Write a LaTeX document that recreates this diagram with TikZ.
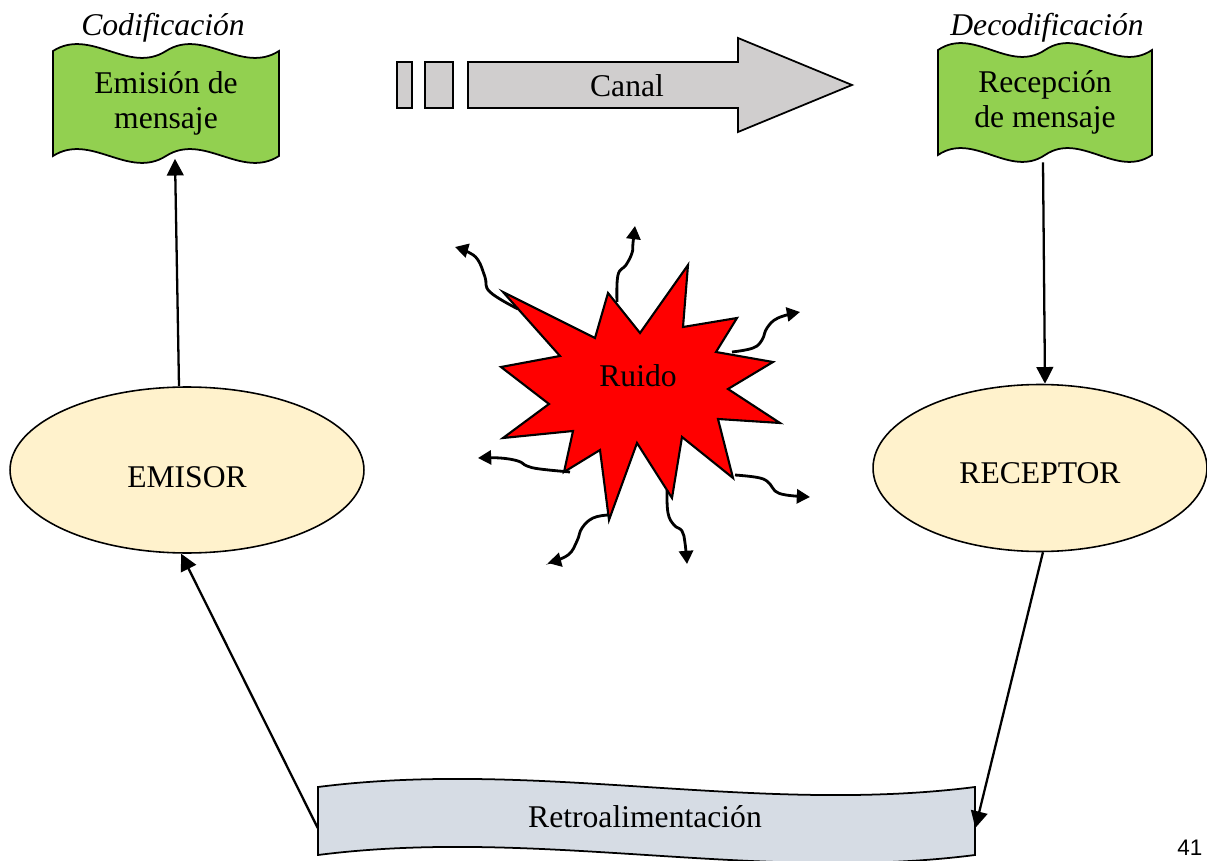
\documentclass[tikz,border=0pt]{standalone}
\usepackage{fontspec}
\setmainfont{Liberation Serif}
\setsansfont{Liberation Sans}
\usetikzlibrary{arrows.meta,shapes.geometric,calc}

\definecolor{wavegreen}{HTML}{92D050}
\definecolor{ellfill}{HTML}{FFF2CC}
\definecolor{canalgray}{HTML}{D0CECE}
\definecolor{retrofill}{HTML}{D6DCE4}

% double wave outline: x1, top baseline, x2, bottom baseline, control offset
\newcommand\dwavepath[5]{%
  (#1,#2) .. controls ({#1+(#3-#1)/6},{#2-#5}) and ({#1+(#3-#1)/3},{#2+#5}) .. ({(#1+#3)/2},#2)
  .. controls ({#1+2*(#3-#1)/3},{#2-#5}) and ({#1+5*(#3-#1)/6},{#2+#5}) .. (#3,#2)
  -- (#3,#4) .. controls ({#1+5*(#3-#1)/6},{#4+#5}) and ({#1+2*(#3-#1)/3},{#4-#5}) .. ({(#1+#3)/2},#4)
  .. controls ({#1+(#3-#1)/3},{#4+#5}) and ({#1+(#3-#1)/6},{#4-#5}) .. (#1,#4) -- cycle}
% single wave outline
\newcommand\swavepath[5]{%
  (#1,#2) .. controls ({#1+(#3-#1)/3},{#2-#5}) and ({#1+2*(#3-#1)/3},{#2+#5}) .. (#3,#2)
  -- (#3,#4) .. controls ({#1+2*(#3-#1)/3},{#4+#5}) and ({#1+(#3-#1)/3},{#4-#5}) .. (#1,#4) -- cycle}

\begin{document}
\begin{tikzpicture}[x=0.02cm,y=-0.02cm,
  txt/.style={font=\fontsize{18}{19.8}\selectfont, align=center, inner sep=0pt},
  itl/.style={font=\fontsize{18}{19.8}\selectfont\itshape, inner sep=0pt},
  frame/.style={draw=black, line width=1pt, line join=miter},
  ell/.style={ellipse, draw=black, fill=ellfill, line width=0.9pt, inner sep=0pt},
  conn/.style={-{Triangle[length=9.5pt,width=9.5pt]}, line width=1.3pt},
  squig/.style={-{Triangle[length=7.5pt,width=8pt]}, line width=1.6pt}]

\useasboundingbox (0,0) rectangle (1207,861);

% message boxes
\draw[frame, fill=wavegreen] \dwavepath{53}{51}{279}{156}{24};
\draw[frame, fill=wavegreen] \dwavepath{938}{50}{1152}{155}{24};
\node[txt, minimum width=4.52cm, minimum height=2.1cm] (emision) at (166,103.5) {Emisión de\\mensaje};
\node[txt, minimum width=4.28cm, minimum height=2.1cm] (recepcion) at (1045,102.5) {Recepción\\de mensaje};
\node[itl] (codif) at (163,28) {Codificación};
\node[itl] (decodif) at (1047,28) {Decodificación};

% channel arrow
\draw[frame, fill=canalgray] (397,62) rectangle (412,108);
\draw[frame, fill=canalgray] (425,62) rectangle (453,108);
\draw[frame, fill=canalgray] (468,62) -- (738,62) -- (738,38) -- (852,85)
  -- (738,132) -- (738,108) -- (468,108) -- cycle;
\node[txt] (canal) at (627,86) {Canal};

% sender and receiver
\node[ell, minimum width=7.08cm, minimum height=3.32cm] (emisor) at (187,470) {};
\node[txt] (emisortxt) at (187,477) {EMISOR};
\node[ell, minimum width=6.68cm, minimum height=3.34cm] (receptor) at (1040,468) {};
\node[txt] (receptortxt) at (1040,473) {RECEPTOR};

% feedback box
\draw[frame, fill=retrofill] \swavepath{318}{787}{975}{855}{28};
\node[txt, minimum width=13.14cm, minimum height=1.36cm] (retro) at (646.5,821) {};
\node[txt] (retrotxt) at (645,817) {Retroalimentación};

% noise burst
\draw[frame, line width=1.2pt, fill=red] (503,292) -- (595,338) -- (608,293) -- (640,333) -- (688,265)
  -- (683,327) -- (737,318) -- (716,352) -- (773,362) -- (728,389) -- (780,423)
  -- (718,419) -- (733,478) -- (682,437) -- (672,498) -- (637,443) -- (609,520)
  -- (600,450) -- (564,472) -- (573,431) -- (503,438) -- (549,404) -- (501,367)
  -- (560,356) -- cycle;
\node[txt] (ruido) at (638,376) {Ruido};

\draw[squig] plot[smooth, tension=0.7] coordinates {(518,309) (490,292) (485,277) (478,260) (468,252) (455,247)};
\draw[squig] plot[smooth, tension=0.7] coordinates {(617,302) (618,275) (626,265) (632,253) (633,243) (635,226)};
\draw[squig] plot[smooth, tension=0.7] coordinates {(732,352) (753,348) (762,340) (767,328) (778,318) (800,312)};
\draw[squig] plot[smooth, tension=0.7] coordinates {(735,475) (760,478) (770,484) (775,491) (786,495) (810,497)};
\draw[squig] plot[smooth, tension=0.7] coordinates {(667,490) (668,513) (674,525) (682,531) (685,543) (687,564)};
\draw[squig] plot[smooth, tension=0.7] coordinates {(608,515) (593,518) (582,528) (577,541) (568,555) (548,563)};
\draw[squig] plot[smooth, tension=0.7] coordinates {(570,472) (540,469) (527,466) (518,461) (500,458) (478,458)};

% connectors
\draw[conn] ([xshift=-0.16cm]emisor.north) -- ([xshift=0.18cm,yshift=-0.05cm]emision.south);
\draw[conn] ([xshift=-0.04cm,yshift=-0.14cm]recepcion.south) -- ([xshift=0.1cm]receptor.north);
\draw[conn] ([yshift=-0.14cm]retro.west) -- (emisor.266);
\draw[conn] (receptor.272) -- ([yshift=-0.14cm]retro.east);

% page number
\node[font=\sffamily\fontsize{12.8}{15}\selectfont, inner sep=0pt, anchor=base west] (pagenum) at (1177,855) {41};
\end{tikzpicture}
\end{document}
